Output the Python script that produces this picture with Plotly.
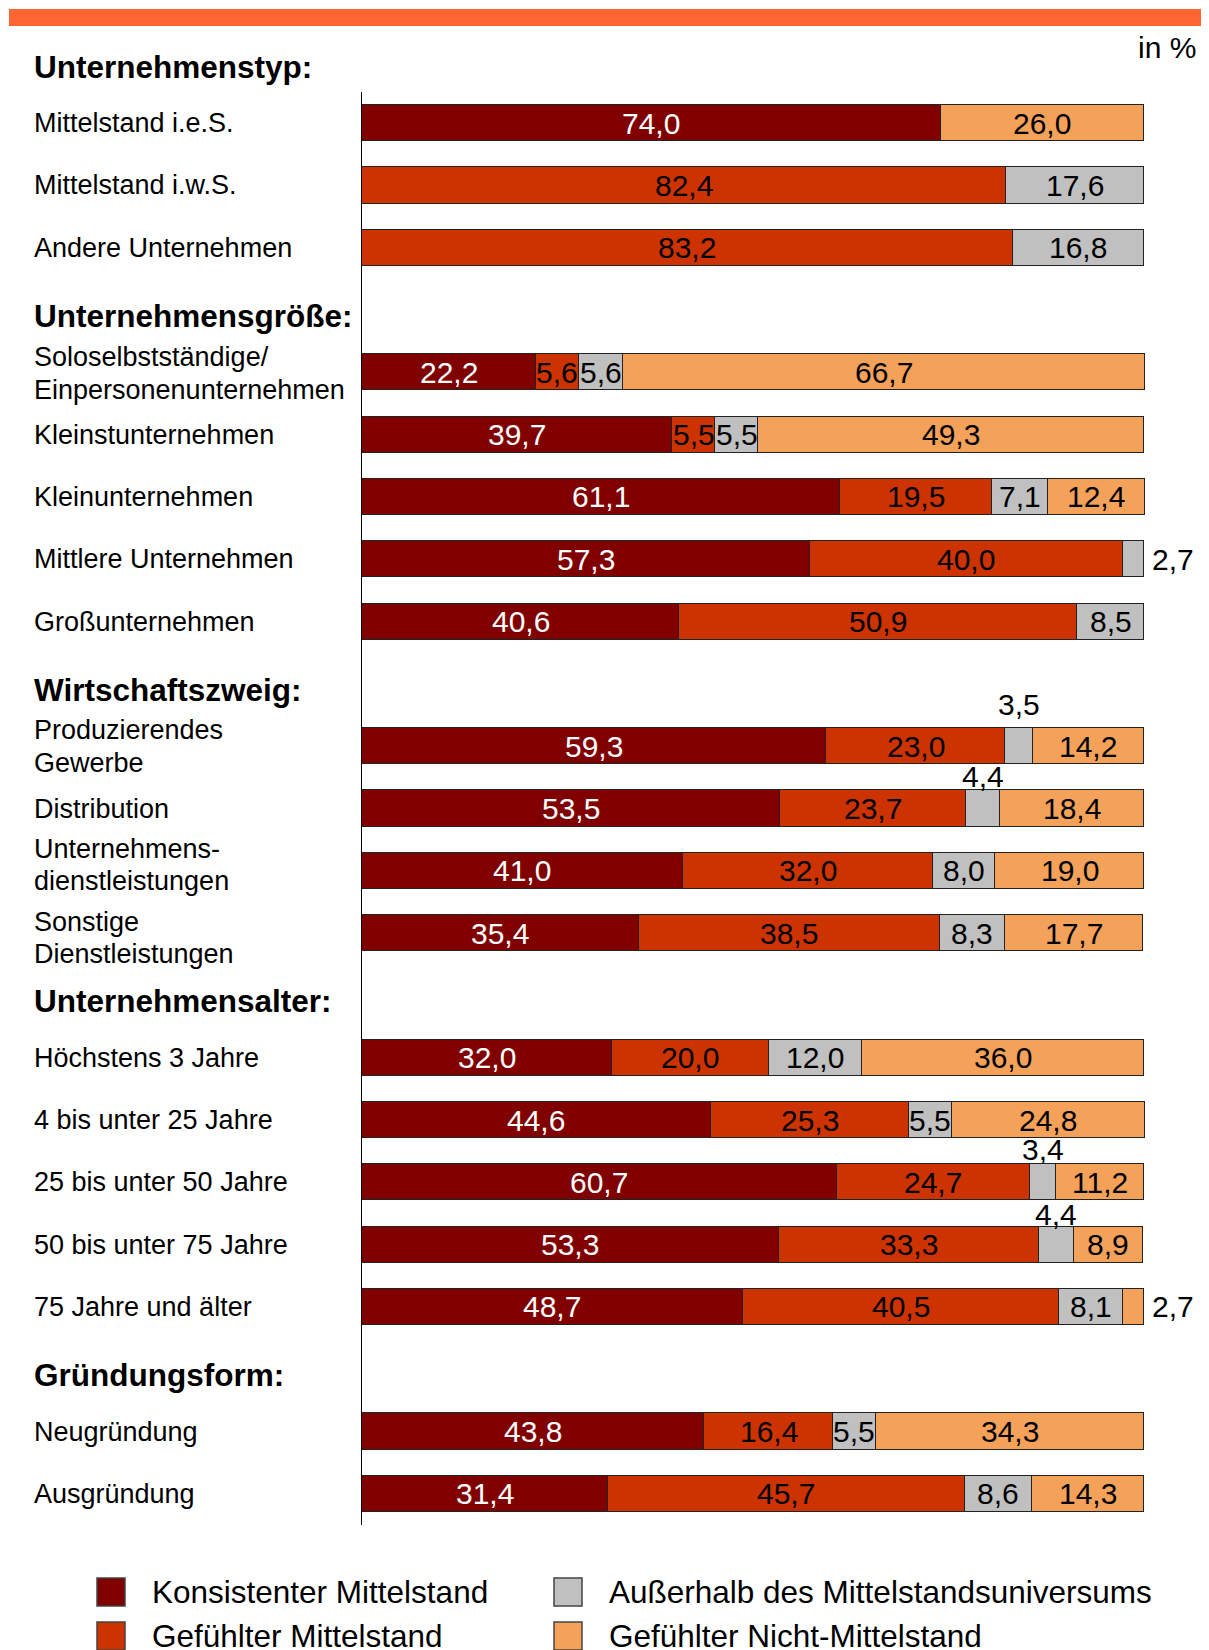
import plotly.graph_objects as go

# ---------------- data ----------------
groups = ["Unternehmenstyp:", "Unternehmensgröße:", "Wirtschaftszweig:",
          "Unternehmensalter:", "Gründungsform:"]
group_sizes = [3, 5, 4, 5, 2]
categories = [
    "Mittelstand i.e.S.", "Mittelstand i.w.S.", "Andere Unternehmen",
    "Soloselbstständige/<br>Einpersonenunternehmen", "Kleinstunternehmen",
    "Kleinunternehmen", "Mittlere Unternehmen", "Großunternehmen",
    "Produzierendes<br>Gewerbe", "Distribution",
    "Unternehmens-<br>dienstleistungen", "Sonstige<br>Dienstleistungen",
    "Höchstens 3 Jahre", "4 bis unter 25 Jahre", "25 bis unter 50 Jahre",
    "50 bis unter 75 Jahre", "75 Jahre und älter",
    "Neugründung", "Ausgründung",
]
series_names = ["Konsistenter Mittelstand", "Gefühlter Mittelstand",
                "Außerhalb des Mittelstandsuniversums", "Gefühlter Nicht-Mittelstand"]
konsistent = [74.0, None, None, 22.2, 39.7, 61.1, 57.3, 40.6, 59.3, 53.5, 41.0, 35.4,
              32.0, 44.6, 60.7, 53.3, 48.7, 43.8, 31.4]
gefuehlt = [None, 82.4, 83.2, 5.6, 5.5, 19.5, 40.0, 50.9, 23.0, 23.7, 32.0, 38.5,
            20.0, 25.3, 24.7, 33.3, 40.5, 16.4, 45.7]
ausserhalb = [None, 17.6, 16.8, 5.6, 5.5, 7.1, 2.7, 8.5, 3.5, 4.4, 8.0, 8.3,
              12.0, 5.5, 3.4, 4.4, 8.1, 5.5, 8.6]
nicht_ms = [26.0, None, None, 66.7, 49.3, 12.4, None, None, 14.2, 18.4, 19.0, 17.7,
            36.0, 24.8, 11.2, 8.9, 2.7, 34.3, 14.3]
series_values = [konsistent, gefuehlt, ausserhalb, nicht_ms]

# ---------------- styling ----------------
colors = ["#800000", "#CC3300", "#C0C0C0", "#F4A25A"]
text_colors = ["white", "black", "black", "black"]
FONT = "Liberation Sans, Arial, sans-serif"

# labels placed outside the bar: (category index, series index) -> (mode, pixel shift)
outside_labels = {
    (6, 2): ("right", 6), (16, 3): ("right", 6),
    (8, 2): ("above", 42), (9, 2): ("above", 32),
    (14, 2): ("above", 33), (15, 2): ("above", 30),
}
# vertical pixel shift of some category labels (positive = up)
label_shift = {3: -1, 10: 6, 11: -5}
LINE_PX = 32.6

W_FIG, H_FIG = 1209, 1650
L, T = 354, 84
PW, PH = 785, 1433
R = W_FIG - L - PW
B = H_FIG - T - PH


def px_x(p):
    return (p - L) / PW


def px_y(p):
    return 1 - (p - T) / PH


# slot positions
header_pos, cat_pos = [], []
slot = 0
for g, n in zip(groups, group_sizes):
    header_pos.append(slot)
    slot += 1
    for _ in range(n):
        cat_pos.append(slot)
        slot += 1
n_slots = slot
slot_px = PH / (n_slots - 1)


def slot_to_paper(s, shift_px=0):
    return px_y(T + (s - 0.5) * slot_px + shift_px)


fig = go.Figure()
for name, vals, col in zip(series_names, series_values, colors):
    fig.add_trace(go.Bar(
        y=cat_pos, x=vals, name=name, orientation="h", width=0.58,
        marker=dict(color=col, line=dict(color="#222222", width=1.2)),
        hoverinfo="skip", showlegend=False,
    ))

annotations = []
# value labels
for ci in range(len(categories)):
    base = 0.0
    for si, vals in enumerate(series_values):
        v = vals[ci]
        if v is None:
            continue
        label = f"{v:.1f}".replace(".", ",")
        mid = base + v / 2
        spec = outside_labels.get((ci, si))
        if spec is None:
            annotations.append(dict(x=mid, y=cat_pos[ci], xref="x", yref="y", text=label,
                                    showarrow=False, xanchor="center", yanchor="middle",
                                    font=dict(family=FONT, size=30, color=text_colors[si])))
        elif spec[0] == "right":
            annotations.append(dict(x=100, y=cat_pos[ci], xref="x", yref="y", text=label,
                                    showarrow=False, xanchor="left", yanchor="middle",
                                    xshift=spec[1],
                                    font=dict(family=FONT, size=30, color="black")))
        else:
            annotations.append(dict(x=mid, y=cat_pos[ci], xref="x", yref="y", text=label,
                                    showarrow=False, xanchor="center", yanchor="middle",
                                    yshift=spec[1],
                                    font=dict(family=FONT, size=30, color="black")))
        base += v

# category labels (one annotation per line)
for ci, (c, p) in enumerate(zip(categories, cat_pos)):
    lines = c.split("<br>")
    nl = len(lines)
    for li, line in enumerate(lines):
        ys = ((nl - 1) / 2 - li) * LINE_PX + label_shift.get(ci, 0)
        annotations.append(dict(x=px_x(24), y=p, xref="paper", yref="y", text=line,
                                showarrow=False, xanchor="left", yanchor="middle",
                                yshift=ys,
                                font=dict(family=FONT, size=27, color="black")))
# group headers
for g, p in zip(groups, header_pos):
    annotations.append(dict(x=px_x(24), y=slot_to_paper(p, 6), xref="paper", yref="paper",
                            text=f"<b>{g}</b>", showarrow=False, xanchor="left",
                            yanchor="middle",
                            font=dict(family=FONT, size=31.5, color="black")))
# unit
annotations.append(dict(x=px_x(1190), y=px_y(40), xref="paper", yref="paper", text="in %",
                        showarrow=False, xanchor="right", yanchor="middle",
                        font=dict(family=FONT, size=30, color="black")))

shapes = [dict(type="rect", xref="paper", yref="paper", x0=px_x(1), x1=px_x(1215),
               y0=px_y(1), y1=px_y(18), fillcolor="#FF6633", line=dict(width=0), layer="above")]

# legend (column-wise order)
leg_cols = [89, 546]
leg_rows = [1584, 1628]
for k, si in enumerate(range(len(series_names))):
    cx = leg_cols[k // 2]
    cy = leg_rows[k % 2]
    shapes.append(dict(type="rect", xref="paper", yref="paper",
                       x0=px_x(cx), x1=px_x(cx + 28), y0=px_y(cy - 14), y1=px_y(cy + 14),
                       fillcolor=colors[si], line=dict(color="#444444", width=1.5)))
    annotations.append(dict(x=px_x(cx + 53), y=px_y(cy), xref="paper", yref="paper",
                            text=series_names[si], showarrow=False, xanchor="left",
                            yanchor="middle",
                            font=dict(family=FONT, size=31.5, color="black")))

fig.update_layout(
    width=W_FIG, height=H_FIG,
    margin=dict(l=L, r=R, t=T, b=B, pad=0),
    barmode="stack", bargap=0,
    plot_bgcolor="white", paper_bgcolor="white",
    xaxis=dict(range=[0, 100.4], visible=False, fixedrange=True),
    yaxis=dict(range=[n_slots - 0.5, 0.5], showline=True,
               linecolor="black", linewidth=1.2, showticklabels=False, ticks="",
               showgrid=False, zeroline=False, fixedrange=True),
    annotations=annotations, shapes=shapes, showlegend=False,
)

fig.write_html("out.html")
